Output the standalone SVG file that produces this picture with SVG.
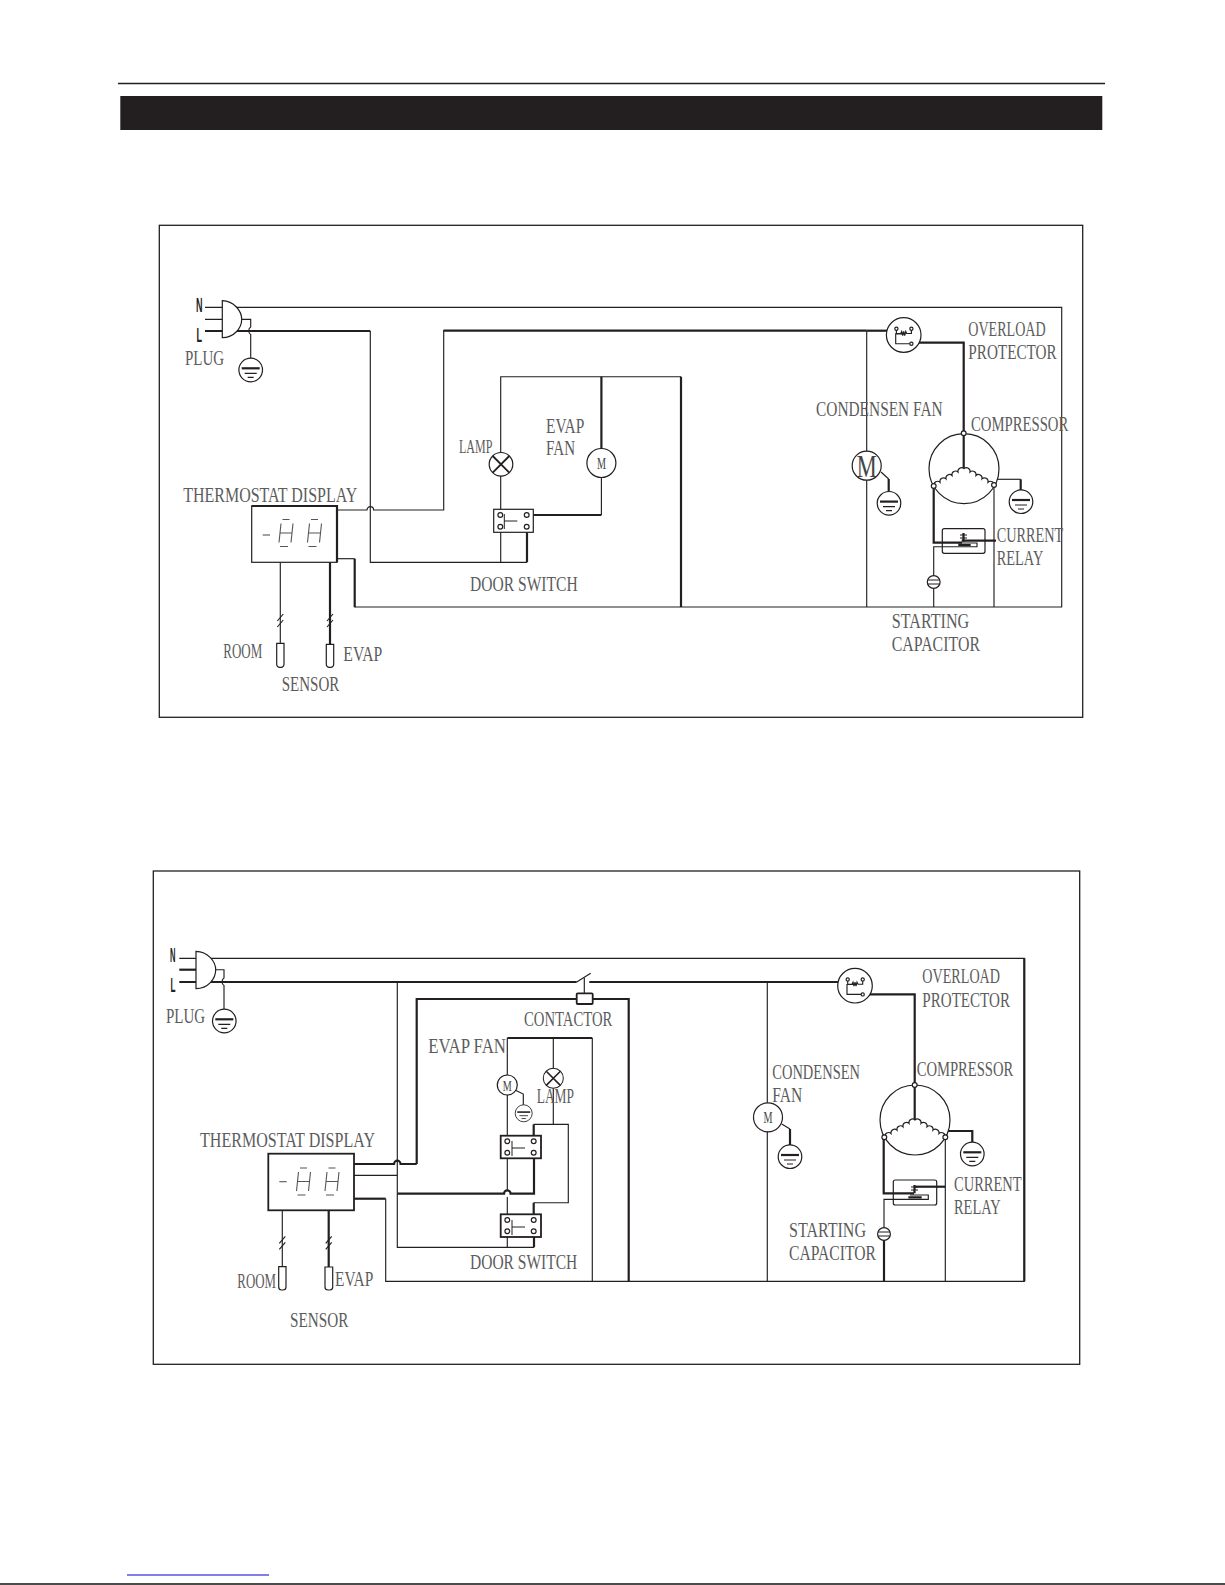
<svg xmlns="http://www.w3.org/2000/svg" xmlns:xlink="http://www.w3.org/1999/xlink" width="1225" height="1585" viewBox="0 0 1225 1585">
<style>
.w{fill:none;stroke:#231f20;stroke-width:1.15;stroke-linejoin:miter}
.t{fill:none;stroke:#231f20;stroke-width:2.2;stroke-linejoin:miter}
.s{fill:#fff;stroke:#231f20;stroke-width:1.2}
.b{fill:#fff;stroke:#231f20;stroke-width:1.8}
.n{fill:none;stroke:#231f20;stroke-width:1}
.x{fill:none;stroke:#231f20;stroke-width:1.8}
.seg{fill:none;stroke:#555;stroke-width:1.1}
text{font-family:"Liberation Serif",serif;font-size:20px;fill:#5c5c5c}
.p{font-family:"Liberation Sans",sans-serif;font-size:21px;font-weight:bold;fill:#222}
.m{text-anchor:middle;fill:#444}
</style>
<defs>
<g id="ground"><circle class="s" r="11.8" stroke-width="1.4"/><path class="t" d="M-9,-1.7H9"/><path class="w" d="M-6,3.3H6M-3,7.3H3"/></g>
<g id="term"><circle class="s" r="2.4"/></g>
<g id="term-sm"><circle class="s" r="1.6"/></g>
<g id="sw"><path class="n" d="M0,0V15M0,7H13"/></g>
<g id="overload"><circle class="s" r="17.3"/><path class="w" d="M-7.3,-6.3V-1.5H-3l1,-2 1,4 1,-4 1,4 1,-4 1,2H7.7V-6.3M2,-1.2H-8V8.7H7"/><use xlink:href="#term-sm" x="-7.3" y="-6.3"/><use xlink:href="#term-sm" x="7.7" y="-6.3"/><use xlink:href="#term-sm" x="7.7" y="8.7"/></g>
<g id="comp"><circle class="s" r="35"/><path class="w" d="M-30,17a3.6,3.6 0 0 1 6,-3.4a3.6,3.6 0 0 1 6,-3.4a3.6,3.6 0 0 1 6,-3.4a3.6,3.6 0 0 1 6,-3.4a3.6,3.6 0 0 1 6,-3.4a3.6,3.6 0 0 1 6,3.4a3.6,3.6 0 0 1 6,3.4a3.6,3.6 0 0 1 6,3.4a3.6,3.6 0 0 1 6,3.4a3.6,3.6 0 0 1 6,3.4"/></g>
<g id="lamp"><circle class="s" r="11.8" stroke-width="1.5"/><path class="x" d="M-8.3,-8.3L8.3,8.3M-8.3,8.3L8.3,-8.3"/></g>
<g id="cap"><circle class="s" r="6.4"/><path class="w" d="M-6,-2H6M-6,2H6"/></g>
<g id="tick"><path class="w" d="M-3,1L3,-6M-3,7L3,0"/></g>
<g id="seven"><path class="seg" d="M4,3L2,22M16,3L14,22M3,12.5H15"/><path class="seg" d="M5.5,-1H12.5M3,26H11"/></g>
</defs>

<g id="page-header">
<path d="M118,83.5H1105" stroke="#231f20" stroke-width="1.3" fill="none"/>
<rect x="120.3" y="96" width="982" height="34" fill="#231f20"/>
</g>
<g id="page-footer">
<path d="M127,1575H269" stroke="#0000d8" stroke-width="1.2" fill="none"/>
<path d="M0,1584H1225" stroke="#111" stroke-width="1.4" fill="none"/>
</g>
<g id="frame-1"><rect x="159.3" y="225.3" width="923.4" height="492" fill="none" stroke="#231f20" stroke-width="1.3"/></g>
<g id="frame-2"><rect x="153.3" y="871" width="926.4" height="493.3" fill="none" stroke="#231f20" stroke-width="1.3"/></g>

<g id="connectors">
<!-- diagram 1 -->
<path class="w" d="M205,307.3H222M236,307.3H1061.7V607H354.7"/>
<path class="w" d="M205,319.3H222M240.5,319.3H250.7V327a3,4 0 0 0 0,7.5V358"/>
<path class="t" d="M205,331H370.3"/>
<path class="w" d="M370.3,331V562.3H527"/>
<path class="t" d="M527,562.3V526.7"/>
<path class="t" d="M866.7,330.7H443.7"/>
<path class="w" d="M443.7,330V510H373.6a3.3,3.3 0 0 0 -6.6,0H337"/>
<path class="t" d="M866.7,330.7H896.3"/>
<path class="w" d="M866.7,330.7V607"/>
<path class="w" d="M500.7,509V376.7H681"/>
<path class="t" d="M601.4,376.7V449"/>
<path class="w" d="M601.4,477.5V515"/>
<path class="t" d="M526.7,515H601.4"/>
<path class="t" d="M681,376.7V607"/>
<path class="w" d="M500.7,532V562.3"/>
<path class="w" d="M337,558.7H354.7"/>
<path class="t" d="M354.7,558.7V607.3"/>
<path class="w" d="M280.3,562.3V643.3"/>
<path class="t" d="M330,562.3V644.3"/>
<path class="t" d="M911.7,342.7H963.7V468.3"/>
<path class="w" d="M881,472L888.7,479"/>
<path class="t" d="M888.7,479V491"/>
<path class="w" d="M994,479.3H1020.7"/>
<path class="t" d="M1020.7,479.3V490"/>
<path class="t" d="M933.7,486V542.7H962"/>
<path class="t" d="M961.7,540.7H996"/>
<path class="w" d="M994,485V607"/>
<path class="w" d="M933.7,607V546.7H977V543H958"/>
<!-- diagram 2 -->
<path class="w" d="M179.3,958.3H196M209.3,958.3H1024.3V1281.3H385.7V1198.7"/>
<path class="t" d="M179.3,969.7H196"/>
<path class="w" d="M214,969.7H224V978a3,4 0 0 0 0,7.5V1009"/>
<path class="t" d="M179.3,982H576.7"/>
<path class="w" d="M576.7,982L590.7,973.3"/>
<path class="t" d="M589.3,982H847.3"/>
<path class="w" d="M584.3,978V993.3"/>
<path class="t" d="M416.7,1164V999H628.7V1281.3"/>
<path class="t" d="M354,1164H394a3.3,3.3 0 0 1 6.6,0H416.7"/>
<path class="w" d="M397.3,982V1247.3H534"/>
<path class="t" d="M534,1247.3V1231.3"/>
<path class="w" d="M354,1175.3H397.3"/>
<path class="t" d="M397.3,1193.7H504a3.3,3.3 0 0 1 6.6,0H534V1152.7"/>
<path class="t" d="M354,1198.7H385.7"/>
<path class="w" d="M507.3,1038V1190M507.3,1197V1247.3"/>
<path class="t" d="M507.3,1038H592.3"/>
<path class="w" d="M592.3,1038V1281.3"/>
<path class="w" d="M553.3,1038V1124.3H533.7"/>
<path class="t" d="M533.7,1124.3V1141.3"/>
<path class="w" d="M553.3,1124.3H568.3V1202.7H533.7"/>
<path class="t" d="M533.7,1202.7V1220"/>
<path class="w" d="M515,1090L523.3,1094V1105"/>
<path class="w" d="M282.3,1210.3V1266.7"/>
<path class="t" d="M328.7,1210.3V1267"/>
<path class="w" d="M767.3,982V1281.3"/>
<path class="t" d="M862.7,994.3H914.7V1120"/>
<path class="w" d="M781.7,1124L790,1129"/>
<path class="t" d="M790,1129V1145"/>
<path class="t" d="M947.3,1131H972.3V1142"/>
<path class="t" d="M883.7,1137V1193.3H914"/>
<path class="t" d="M915,1186.7H945.3"/>
<path class="w" d="M945.3,1137V1281.3"/>
<path class="w" d="M884,1228V1199.3H928.3V1195H910"/>
<path class="t" d="M884,1240V1281.3"/>
<path class="t" d="M1024.3,958.3V1281.3"/>
</g>

<g id="d1-plug">
<path class="s" d="M222.3,300.7C234,301 241.7,311 241.7,319.2C241.7,328 234,337.7 222.3,337.7Z" stroke-width="1.6"/>
<text class="p" x="196" y="311.7" textLength="6.5" lengthAdjust="spacingAndGlyphs">N</text>
<text class="p" x="196.5" y="341.7" textLength="5.5" lengthAdjust="spacingAndGlyphs">L</text>
<text x="185" y="365" textLength="39" lengthAdjust="spacingAndGlyphs">PLUG</text>
<use xlink:href="#ground" x="250.7" y="370"/>
</g>
<g id="d1-display">
<rect class="s" x="251.7" y="506" width="85.3" height="56.3"/>
<path class="t" d="M251.7,506H337V562.3"/>
<path class="seg" d="M262.7,535H270"/>
<use xlink:href="#seven" x="277" y="520.5"/>
<use xlink:href="#seven" x="305.5" y="520.5"/>
<text x="183.3" y="501.7" textLength="174" lengthAdjust="spacingAndGlyphs">THERMOSTAT DISPLAY</text>
</g>
<g id="d1-sensors">
<use xlink:href="#tick" x="280.3" y="620"/><use xlink:href="#tick" x="330" y="620"/>
<path class="s" d="M276.7,643.3H284V664a3,3 0 0 1 -3,3.3H279.7a3,3 0 0 1 -3,-3.3Z"/>
<path class="s" d="M326.3,644.3H333.7V664a3,3 0 0 1 -3,3.3H329.3a3,3 0 0 1 -3,-3.3Z"/>
<text x="223.3" y="658.3" textLength="39" lengthAdjust="spacingAndGlyphs">ROOM</text>
<text x="343.3" y="660.7" textLength="39" lengthAdjust="spacingAndGlyphs">EVAP</text>
<text x="281.7" y="691" textLength="57.6" lengthAdjust="spacingAndGlyphs">SENSOR</text>
</g>
<g id="d1-lamp">
<use xlink:href="#lamp" x="501" y="464.3"/>
<text x="459" y="452.7" textLength="33.3" lengthAdjust="spacingAndGlyphs" style="font-size:18px">LAMP</text>
</g>
<g id="d1-evap-fan">
<circle class="s" cx="601.4" cy="463" r="14.5"/>
<text x="601.4" y="469" class="m" style="font-size:16px" textLength="9" lengthAdjust="spacingAndGlyphs">M</text>
<text x="546" y="432.7" textLength="38.3" lengthAdjust="spacingAndGlyphs">EVAP</text>
<text x="546" y="455" textLength="29" lengthAdjust="spacingAndGlyphs">FAN</text>
</g>
<g id="d1-door-switch">
<rect class="s" x="493.7" y="509.3" width="39.6" height="23"/>
<use xlink:href="#term" x="500.3" y="515"/><use xlink:href="#term" x="500.3" y="526.7"/><use xlink:href="#term" x="526.7" y="515"/><use xlink:href="#term" x="526.7" y="526.7"/>
<use xlink:href="#sw" x="504.3" y="514"/>
<text x="470" y="590.7" textLength="107.7" lengthAdjust="spacingAndGlyphs">DOOR SWITCH</text>
</g>
<g id="d1-overload">
<use xlink:href="#overload" x="903.7" y="335"/>
<text x="968.3" y="335.7" textLength="77.4" lengthAdjust="spacingAndGlyphs">OVERLOAD</text>
<text x="968.3" y="359" textLength="88.4" lengthAdjust="spacingAndGlyphs">PROTECTOR</text>
</g>
<g id="d1-condenser-fan">
<circle class="s" cx="866.7" cy="465.7" r="14.5"/>
<text x="866.7" y="477" class="m" style="font-size:32px" textLength="20" lengthAdjust="spacingAndGlyphs">M</text>
<use xlink:href="#ground" x="889" y="503.3"/>
<text x="816" y="416" textLength="126.7" lengthAdjust="spacingAndGlyphs">CONDENSEN FAN</text>
</g>
<g id="d1-compressor">
<use xlink:href="#comp" x="964" y="468.7"/>
<path class="t" d="M963.7,433.3V468"/>
<use xlink:href="#term" x="963.7" y="433.3"/><use xlink:href="#term" x="933.7" y="486"/><use xlink:href="#term" x="994" y="485"/>
<use xlink:href="#ground" x="1021" y="501.7"/>
<text x="971" y="430.7" textLength="97.3" lengthAdjust="spacingAndGlyphs">COMPRESSOR</text>
</g>
<g id="d1-relay">
<rect x="942.3" y="528.7" width="42.7" height="24.6" rx="2" fill="none" stroke="#231f20" stroke-width="1.2"/>
<path class="t" d="M958.3,545H970.7M963.5,533V541.7"/>
<path class="w" d="M960,535H967M960,538H967"/>
<text x="996.7" y="541.7" textLength="66.6" lengthAdjust="spacingAndGlyphs">CURRENT</text>
<text x="996.7" y="565" textLength="46.6" lengthAdjust="spacingAndGlyphs">RELAY</text>
</g>
<g id="d1-capacitor">
<use xlink:href="#cap" x="933.7" y="582"/>
<text x="891.7" y="628.3" textLength="77.6" lengthAdjust="spacingAndGlyphs">STARTING</text>
<text x="891.7" y="650.7" textLength="88.3" lengthAdjust="spacingAndGlyphs">CAPACITOR</text>
</g>

<g id="d2-plug">
<path class="s" d="M196,951.3C208,951.6 215.7,961.5 215.7,969.8C215.7,979 208,988.7 196,988.7Z" stroke-width="1.6"/>
<text class="p" x="170" y="962.3" textLength="5.5" lengthAdjust="spacingAndGlyphs">N</text>
<text class="p" x="170.5" y="992.3" textLength="5" lengthAdjust="spacingAndGlyphs">L</text>
<text x="166" y="1023.3" textLength="39" lengthAdjust="spacingAndGlyphs">PLUG</text>
<use xlink:href="#ground" x="224.3" y="1021"/>
</g>
<g id="d2-contactor">
<rect class="b" x="576.7" y="993.3" width="16" height="10.7" rx="1"/>
<text x="524" y="1025.7" textLength="88.3" lengthAdjust="spacingAndGlyphs">CONTACTOR</text>
</g>
<g id="d2-display">
<rect class="b" x="268.3" y="1153.7" width="85.7" height="56.6"/>
<path class="seg" d="M279.3,1181.7H286.7"/>
<use xlink:href="#seven" x="294.5" y="1169"/>
<use xlink:href="#seven" x="323" y="1169"/>
<text x="200" y="1146.7" textLength="175" lengthAdjust="spacingAndGlyphs">THERMOSTAT DISPLAY</text>
</g>
<g id="d2-sensors">
<use xlink:href="#tick" x="282.3" y="1242.3"/><use xlink:href="#tick" x="328.7" y="1242.3"/>
<path class="s" d="M278.7,1266.7H286V1287a3,3 0 0 1 -3,3H281.7a3,3 0 0 1 -3,-3Z"/>
<path class="s" d="M325,1267H332.7V1287a3,3 0 0 1 -3,3H328a3,3 0 0 1 -3,-3Z"/>
<text x="237.3" y="1287.7" textLength="38.7" lengthAdjust="spacingAndGlyphs">ROOM</text>
<text x="335" y="1285.7" textLength="38.3" lengthAdjust="spacingAndGlyphs">EVAP</text>
<text x="290" y="1326.7" textLength="58.3" lengthAdjust="spacingAndGlyphs">SENSOR</text>
</g>
<g id="d2-evap-fan">
<circle class="s" cx="507.3" cy="1085" r="10"/>
<text x="507.3" y="1090.5" class="m" style="font-size:15px" textLength="9" lengthAdjust="spacingAndGlyphs">M</text>
<use xlink:href="#ground" transform="translate(523.7 1113.3) scale(.72)"/>
<text x="428.3" y="1052.7" textLength="77.7" lengthAdjust="spacingAndGlyphs">EVAP FAN</text>
</g>
<g id="d2-lamp">
<use xlink:href="#lamp" transform="translate(553.3 1078.3) scale(.85)"/>
<text x="536.7" y="1102.7" textLength="37.3" lengthAdjust="spacingAndGlyphs">LAMP</text>
</g>
<g id="d2-door-switch-1">
<rect class="b" x="500.7" y="1135.7" width="40.3" height="22.6"/>
<use xlink:href="#term" x="507.3" y="1141.3"/><use xlink:href="#term" x="507.3" y="1152.7"/><use xlink:href="#term" x="533.7" y="1141.3"/><use xlink:href="#term" x="533.7" y="1152.7"/>
<use xlink:href="#sw" x="512" y="1141"/>
</g>
<g id="d2-door-switch-2">
<rect class="b" x="500.7" y="1214.3" width="40.3" height="22.7"/>
<use xlink:href="#term" x="507.3" y="1220"/><use xlink:href="#term" x="507.3" y="1231.3"/><use xlink:href="#term" x="533.7" y="1220"/><use xlink:href="#term" x="533.7" y="1231.3"/>
<use xlink:href="#sw" x="512" y="1220"/>
<text x="470" y="1268.7" textLength="107.3" lengthAdjust="spacingAndGlyphs">DOOR SWITCH</text>
</g>
<g id="d2-overload">
<use xlink:href="#overload" x="855" y="985.7"/>
<text x="922.3" y="983.3" textLength="77.7" lengthAdjust="spacingAndGlyphs">OVERLOAD</text>
<text x="922.3" y="1006.7" textLength="87.7" lengthAdjust="spacingAndGlyphs">PROTECTOR</text>
</g>
<g id="d2-condenser-fan">
<circle class="s" cx="768" cy="1117.3" r="14.5"/>
<text x="768" y="1122.8" class="m" style="font-size:16px" textLength="9" lengthAdjust="spacingAndGlyphs">M</text>
<use xlink:href="#ground" x="790" y="1156.7"/>
<text x="772.3" y="1079.3" textLength="87.7" lengthAdjust="spacingAndGlyphs">CONDENSEN</text>
<text x="772.3" y="1102.3" textLength="30" lengthAdjust="spacingAndGlyphs">FAN</text>
</g>
<g id="d2-compressor">
<use xlink:href="#comp" x="915" y="1120"/>
<path class="t" d="M914.7,1085V1119"/>
<use xlink:href="#term" x="914.7" y="1085"/><use xlink:href="#term" x="884.3" y="1137.3"/><use xlink:href="#term" x="945.3" y="1137.3"/>
<use xlink:href="#ground" x="972.3" y="1154"/>
<text x="916.7" y="1075.7" textLength="96.6" lengthAdjust="spacingAndGlyphs">COMPRESSOR</text>
</g>
<g id="d2-relay">
<rect x="893.3" y="1180" width="43.4" height="25" rx="2" fill="none" stroke="#231f20" stroke-width="1.2"/>
<path class="t" d="M908.3,1197.3H921.7M914.5,1185V1193.3"/>
<path class="w" d="M911,1187H918M911,1190H918"/>
<text x="954" y="1190.7" textLength="67.7" lengthAdjust="spacingAndGlyphs">CURRENT</text>
<text x="954" y="1214" textLength="46.7" lengthAdjust="spacingAndGlyphs">RELAY</text>
</g>
<g id="d2-capacitor">
<use xlink:href="#cap" x="884" y="1234"/>
<text x="789" y="1236.7" textLength="77" lengthAdjust="spacingAndGlyphs">STARTING</text>
<text x="789" y="1260" textLength="87" lengthAdjust="spacingAndGlyphs">CAPACITOR</text>
</g>
</svg>
